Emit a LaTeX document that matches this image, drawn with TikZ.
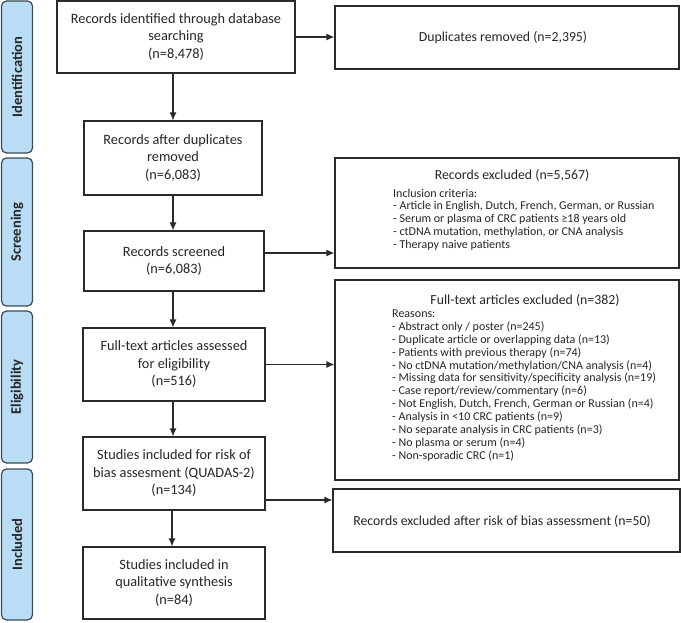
\documentclass[tikz,border=0pt]{standalone}
\usepackage{fontspec}
\setmainfont{Carlito}
\usetikzlibrary{arrows.meta}
\definecolor{phasefill}{HTML}{B8DDF4}
\definecolor{phaseline}{HTML}{3C4A55}
\definecolor{boxline}{HTML}{2A2A2A}
\definecolor{txt}{HTML}{262626}
\begin{document}
\begin{tikzpicture}[x=1pt,y=-1pt,
  box/.style={draw=boxline, line width=1.1pt, fill=white, inner sep=0pt, align=center, text=txt,
    font=\fontsize{14.3}{17.5}\selectfont},
  sidebox/.style={draw=boxline, line width=1.1pt, fill=white, inner sep=0pt},
  head/.style={inner sep=0pt, text=txt, font=\fontsize{13.8}{16}\selectfont},
  small/.style={inner sep=0pt, align=left, text=txt, font=\fontsize{12}{12.9}\selectfont, anchor=north west},
  phase/.style={draw=phaseline, fill=phasefill, line width=1.2pt, rounded corners=5pt,
    minimum height=31pt, inner sep=0pt, rotate=90, text=black!85,
    font=\fontsize{14.5}{16}\selectfont\bfseries},
  arr/.style={draw=boxline, line width=1.1pt, -{Latex[length=8pt,width=7pt]}}]
\useasboundingbox (0,0) rectangle (681,623);

% phase bars
\node[phase, minimum width=152pt] (pid) at (17,77) {Identification};
\node[phase, minimum width=148pt] (psc) at (17,232) {Screening};
\node[phase, minimum width=152pt] (pel) at (17,387) {Eligibility};
\node[phase, minimum width=151pt] (pin) at (17,544.5) {Included};

% left column
\node[box, minimum width=238pt, minimum height=72pt] (b1) at (176,37) {Records identified through database\\searching\\(n=8,478)};
\node[box, minimum width=178pt, minimum height=74pt] (b2) at (173,158) {Records after duplicates\\removed\\(n=6,083)};
\node[box, minimum width=180pt, minimum height=60pt] (b3) at (174,261) {Records screened\\(n=6,083)};
\node[box, minimum width=182pt, minimum height=73pt] (b4) at (174,364.5) {Full-text articles assessed\\for eligibility\\(n=516)};
\node[box, minimum width=182pt, minimum height=73pt] (b5) at (174,473.5) {Studies included for risk of\\bias assesment (QUADAS-2)\\(n=134)};
\node[box, minimum width=182pt, minimum height=72pt] (b6) at (174,583) {Studies included in\\qualitative synthesis\\(n=84)};

% right column
\node[sidebox, minimum width=344pt, minimum height=63pt] (r1) at (507,37.5) {};
\node[head] (r1t) at (503,37.5) {Duplicates removed (n=2,395)};

\node[sidebox, minimum width=344pt, minimum height=110pt] (r2) at (507,213) {};
\node[head] (r2t) at (512,175) {Records excluded (n=5,567)};
\node[small] (r2l) at (393,188.5) {Inclusion criteria:\\
- Article in English, Dutch, French, German, or Russian\\
- Serum or plasma of CRC patients ≥18 years old\\
- ctDNA mutation, methylation, or CNA analysis\\
- Therapy naive patients};

\node[sidebox, minimum width=344pt, minimum height=200pt] (r3) at (507,380) {};
\node[head] (r3t) at (525,300) {Full-text articles excluded (n=382)};
\node[small] (r3l) at (392,309.5) {Reasons:\\
- Abstract only / poster (n=245)\\
- Duplicate article or overlapping data (n=13)\\
- Patients with previous therapy (n=74)\\
- No ctDNA mutation/methylation/CNA analysis (n=4)\\
- Missing data for sensitivity/specificity analysis (n=19)\\
- Case report/review/commentary (n=6)\\
- Not English, Dutch, French, German or Russian (n=4)\\
- Analysis in <10 CRC patients (n=9)\\
- No separate analysis in CRC patients (n=3)\\
- No plasma or serum (n=4)\\
- Non-sporadic CRC (n=1)};

\node[sidebox, minimum width=347pt, minimum height=63pt] (r4) at (506.5,520.5) {};
\node[head] (r4t) at (502,521) {Records excluded after risk of bias assessment (n=50)};

% arrow start points
\coordinate (b3o) at ([yshift=8pt]b3.east);
\coordinate (b5o) at ([yshift=-26.5pt]b5.east);

% vertical arrows
\draw[arr] (b2.north |- b1.south) -- (b2.north);
\draw[arr] (b2.south) -- (b2.south |- b3.north);
\draw[arr] (b2.south |- b3.south) -- (b2.south |- b4.north);
\draw[arr] (b2.south |- b4.south) -- (b2.south |- b5.north);
\draw[arr] ([xshift=-2pt]b5.south) -- ([xshift=-2pt]b6.north);

% horizontal arrows
\draw[arr] (b1.east) -- (r1.west |- b1.east);
\draw[arr] (b3o) -- (r2.west |- b3o);
\draw[arr] (b4.east) -- (r3.west |- b4.east);
\draw[arr] (b5o) -- (r4.west |- b5o);
\end{tikzpicture}
\end{document}
